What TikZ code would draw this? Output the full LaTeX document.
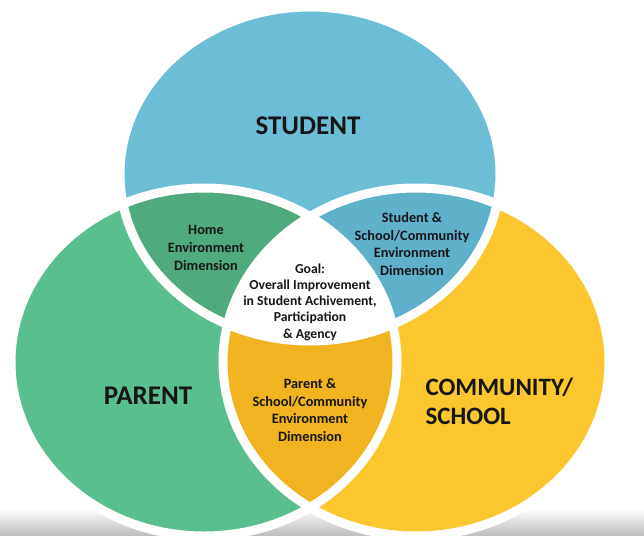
\documentclass[tikz,border=0pt]{standalone}
\usepackage{fontspec}
\setmainfont{Carlito}
\usepackage{tikz}
\usepackage{xcolor}
\definecolor{student}{RGB}{108,190,215}
\definecolor{parent}{RGB}{90,191,143}
\definecolor{community}{RGB}{252,199,46}
\definecolor{home}{RGB}{79,171,125}
\definecolor{stuschool}{RGB}{95,176,203}
\definecolor{parschool}{RGB}{241,179,31}
\definecolor{ink}{RGB}{22,22,22}
\usetikzlibrary{positioning}

\begin{document}
\begin{tikzpicture}[x=1pt,y=-1pt,
        big/.style={font=\fontsize{27}{29}\selectfont\bfseries,text=ink,align=left},
        dimension/.style={font=\fontsize{14.3}{17.6}\selectfont\bfseries,text=ink,align=center},
        goal/.style={font=\fontsize{13.7}{16.3}\selectfont\bfseries,text=ink,align=center},
        border/.style={draw=white,line width=9}]
        \useasboundingbox (0,0) rectangle (644,535);
        \shade[top color=white,bottom color=black!25] (0,508) rectangle (644,535);
        \fill[student] (310,174) ellipse [x radius=190, y radius=167];
        \fill[parent] (204,362) ellipse [x radius=193, y radius=174];
        \fill[community] (416,362) ellipse [x radius=193, y radius=174];
        \begin{scope}
            \clip (310,174) ellipse [x radius=190, y radius=167];
            \fill[home] (204,362) ellipse [x radius=193, y radius=174];
        \end{scope}
        \begin{scope}
            \clip (310,174) ellipse [x radius=190, y radius=167];
            \fill[stuschool] (416,362) ellipse [x radius=193, y radius=174];
        \end{scope}
        \begin{scope}
            \clip (204,362) ellipse [x radius=193, y radius=174];
            \fill[parschool] (416,362) ellipse [x radius=193, y radius=174];
        \end{scope}
        \begin{scope}
            \clip (310,174) ellipse [x radius=190, y radius=167];
            \clip (204,362) ellipse [x radius=193, y radius=174];
            \fill[white] (416,362) ellipse [x radius=193, y radius=174];
        \end{scope}
        \draw[border] (310,174) ellipse [x radius=190, y radius=167];
        \draw[border] (204,362) ellipse [x radius=193, y radius=174];
        \draw[border] (416,362) ellipse [x radius=193, y radius=174];

        \node[big] (student) at (308,126) {STUDENT};
        \node[big] (parent) at (148,396) {PARENT};
        \node[big,font=\fontsize{25}{29}\selectfont\bfseries,anchor=west] (community) at (422,401) {COMMUNITY/\\SCHOOL};
        \node[dimension] (home) at (206,248) {Home\\Environment\\Dimension};
        \node[dimension] (stuschool) at (412,244) {Student \&\\School/Community\\Environment\\Dimension};
        \node[dimension] (parschool) at (310,410) {Parent \&\\School/Community\\Environment\\Dimension};
        \node[goal] (goal) at (310,302) {Goal:\\Overall Improvement\\in Student Achivement,\\Participation\\\& Agency};
    \end{tikzpicture}
\end{document}
